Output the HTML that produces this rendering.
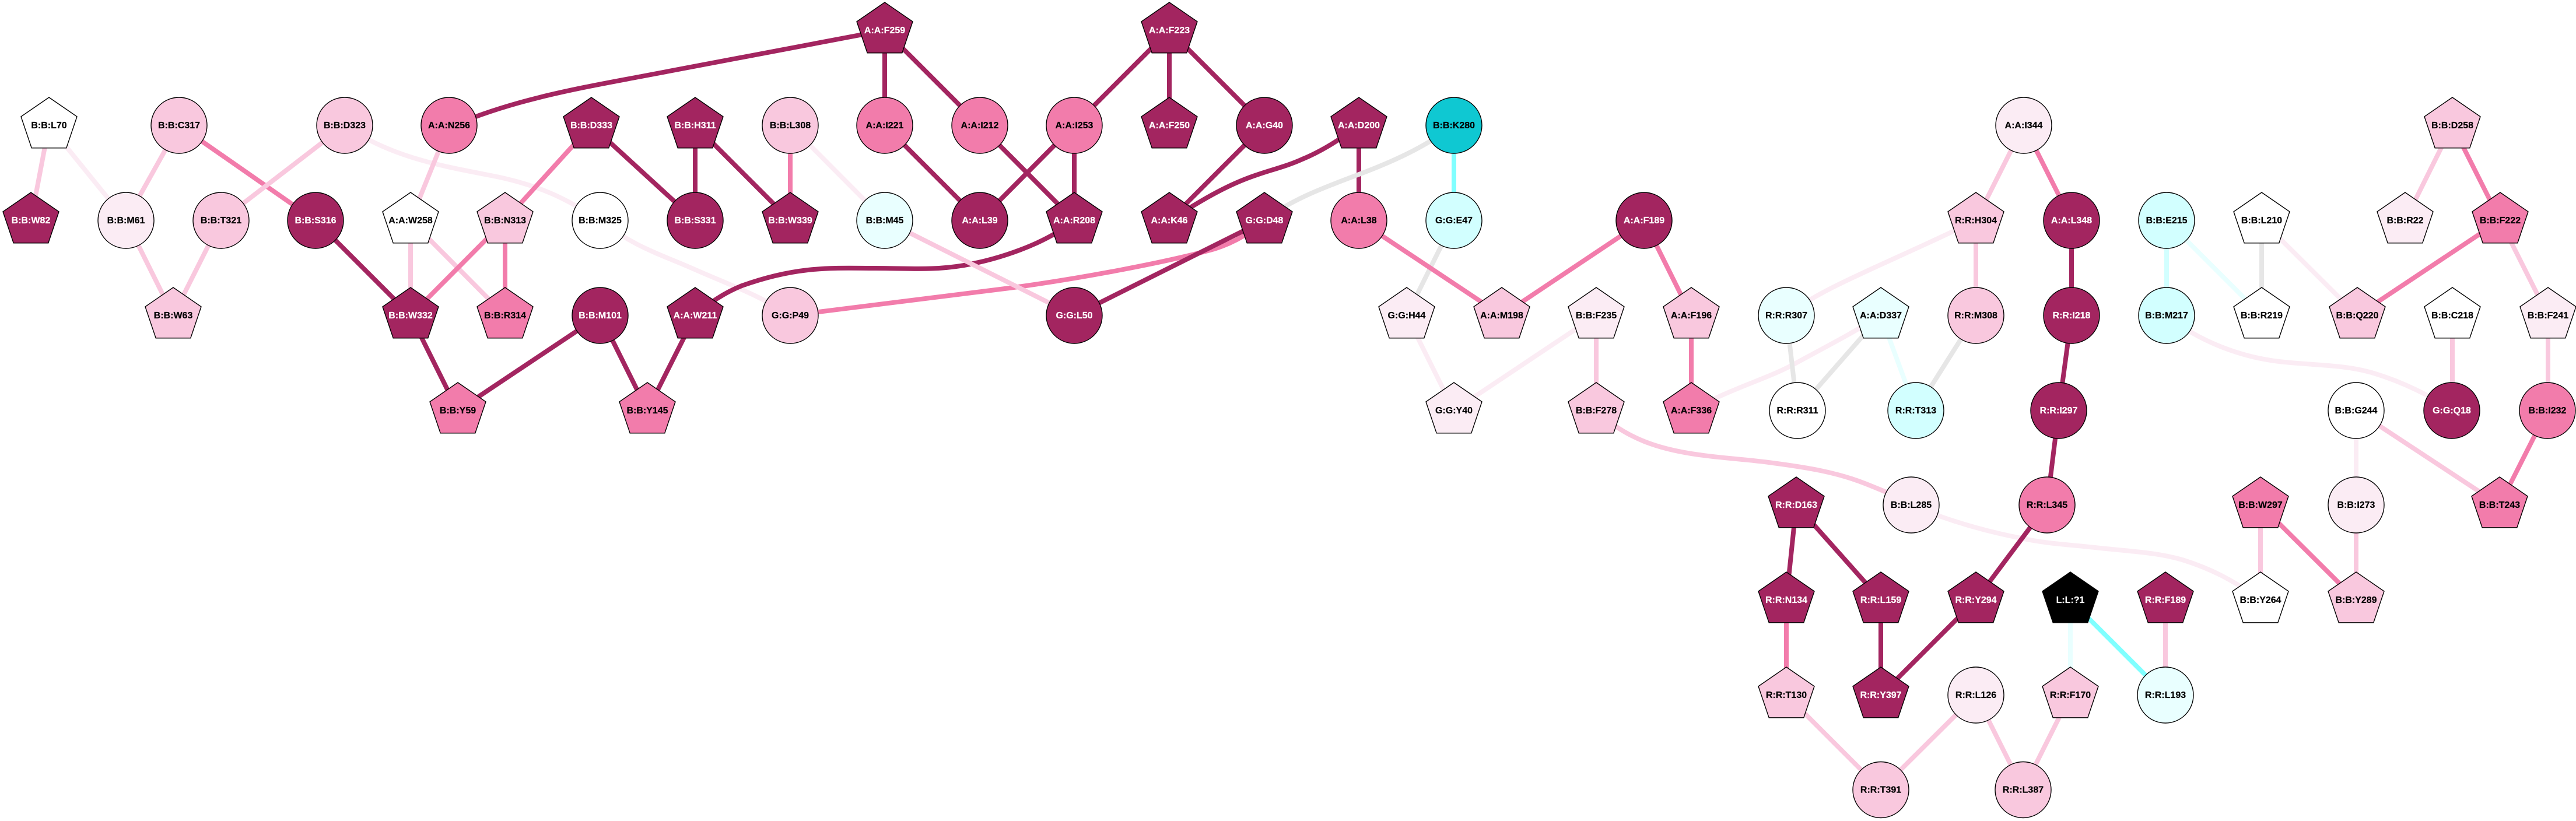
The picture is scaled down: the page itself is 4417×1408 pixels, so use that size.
<!DOCTYPE html>
<html>
<head>
<meta charset="utf-8">
<style>
html,body{margin:0;padding:0;background:#fff}
svg{display:block}
#e path,#e line{fill:none;stroke-width:8}
.ed{stroke:#a32560}.ep{stroke:#f27cab}.el{stroke:#f9c8de}.ev{stroke:#fbecf4}.eg{stroke:#e6e6e6}.ec{stroke:#80ffff}.ea{stroke:#e9ffff}.eb{stroke:#d2ffff}
.n polygon,.n circle{stroke:#000;stroke-width:1.4}
.n text{font-family:"Liberation Sans",Arial,sans-serif;font-weight:700;font-size:16px;text-anchor:middle;fill:#000;stroke:#000;stroke-width:.2}
.w polygon,.w circle{fill:#fff}
.v polygon,.v circle{fill:#fbecf4}
.l polygon,.l circle{fill:#f9c8de}
.p polygon,.p circle{fill:#f27cab}
.d polygon,.d circle{fill:#a32560}
.a polygon,.a circle{fill:#e9ffff}
.b polygon,.b circle{fill:#d2ffff}
.c polygon,.c circle{fill:#0fc8d2}
.k polygon,.k circle{fill:#000}
.d text,.k text{fill:#fff;stroke:#fff}
</style>
</head>
<body>
<svg xmlns="http://www.w3.org/2000/svg" width="4417" height="1408" viewBox="0 0 4417 1408">
<rect width="4417" height="1408" fill="#fff"/>
<g id="e">
<line class="ev" x1="84" y1="215" x2="216" y2="378"/>
<path class="ev" d="M591,215 C670,270 760,285 842,301 S970,340 1029,378"/>
<path class="ev" d="M1029,378 C1090,425 1130,435 1191,462 S1300,505 1355,541"/>
<line class="ev" x1="1355" y1="215" x2="1517" y2="378"/>
<line class="ev" x1="2412" y1="541" x2="2493" y2="704"/>
<line class="ev" x1="2737" y1="541" x2="2493" y2="704"/>
<path class="ev" d="M3063,541 C3130,490 3230,455 3388,378"/>
<path class="ev" d="M2900,704 C2970,665 3030,650 3077,624 C3130,595 3170,575 3225,541"/>
<line class="ev" x1="3878" y1="378" x2="4042" y2="541"/>
<path class="ev" d="M3715,541 C3770,585 3840,612 3908,620 C3970,627 4020,625 4070,640 C4120,655 4170,680 4205,704"/>
<line class="ev" x1="4040" y1="704" x2="4040" y2="866"/>
<path class="ev" d="M3277,866 C3340,893 3400,910 3461,922 C3510,933 3550,934 3601,940 C3660,946 3700,948 3742,960 C3790,975 3830,995 3876,1029"/>
<line class="ea" x1="3225" y1="541" x2="3285" y2="704"/>
<line class="ea" x1="3715" y1="378" x2="3878" y2="541"/>
<line class="ea" x1="3550" y1="1029" x2="3550" y2="1192"/>
<line class="eb" x1="3715" y1="378" x2="3715" y2="541"/>
<line class="eg" x1="2493" y1="378" x2="2412" y2="541"/>
<line class="eg" x1="3063" y1="541" x2="3082" y2="704"/>
<line class="eg" x1="3225" y1="541" x2="3082" y2="704"/>
<line class="eg" x1="3388" y1="541" x2="3285" y2="704"/>
<line class="eg" x1="3878" y1="378" x2="3878" y2="541"/>
<line class="ec" x1="2493" y1="215" x2="2493" y2="378"/>
<line class="ec" x1="3550" y1="1029" x2="3713" y2="1192"/>
<line class="el" x1="704" y1="378" x2="866" y2="541"/>
<line class="el" x1="704" y1="378" x2="704" y2="541"/>
<line class="el" x1="770" y1="215" x2="704" y2="378"/>
<path class="ed" d="M771,218 C880,170 1000,150 1100,131 L1517,52"/>
<line class="ed" x1="1014" y1="215" x2="1192" y2="378"/>
<line class="ed" x1="541" y1="378" x2="704" y2="541"/>
<line class="ed" x1="704" y1="541" x2="785" y2="704"/>
<line class="ed" x1="1029" y1="541" x2="785" y2="704"/>
<line class="ed" x1="1029" y1="541" x2="1110" y2="704"/>
<line class="ed" x1="1192" y1="215" x2="1192" y2="378"/>
<line class="ed" x1="1192" y1="215" x2="1355" y2="378"/>
<line class="ed" x1="1517" y1="52" x2="1517" y2="215"/>
<line class="ed" x1="1517" y1="52" x2="1680" y2="215"/>
<line class="ed" x1="1517" y1="215" x2="1680" y2="378"/>
<line class="ed" x1="1680" y1="215" x2="1842" y2="378"/>
<line class="ed" x1="1842" y1="215" x2="1680" y2="378"/>
<line class="ed" x1="1842" y1="215" x2="1842" y2="378"/>
<line class="ed" x1="2005" y1="52" x2="1842" y2="215"/>
<line class="ed" x1="2005" y1="52" x2="2005" y2="215"/>
<line class="ed" x1="2005" y1="52" x2="2168" y2="215"/>
<line class="ed" x1="2168" y1="215" x2="2005" y2="378"/>
<path class="ed" d="M2005,378 C2050,350 2090,325 2133,308 C2170,293 2200,288 2233,273 C2265,260 2300,238 2330,215"/>
<line class="ed" x1="2330" y1="215" x2="2330" y2="378"/>
<path class="ed" d="M1842,378 C1790,420 1710,445 1653,455 C1600,464 1560,460 1501,460 C1430,460 1370,455 1272,490 C1240,503 1215,520 1192,541"/>
<line class="ed" x1="1192" y1="541" x2="1110" y2="704"/>
<line class="ed" x1="3552" y1="378" x2="3552" y2="541"/>
<line class="ed" x1="3552" y1="541" x2="3530" y2="704"/>
<line class="ed" x1="3530" y1="704" x2="3510" y2="866"/>
<line class="ed" x1="3510" y1="866" x2="3388" y2="1029"/>
<line class="ed" x1="3080" y1="866" x2="3063" y2="1029"/>
<line class="ed" x1="3080" y1="866" x2="3225" y2="1029"/>
<line class="ed" x1="3225" y1="1029" x2="3225" y2="1192"/>
<line class="ed" x1="3388" y1="1029" x2="3225" y2="1192"/>
<line class="ep" x1="307" y1="215" x2="541" y2="378"/>
<line class="ep" x1="866" y1="378" x2="866" y2="541"/>
<line class="ep" x1="1355" y1="215" x2="1355" y2="378"/>
<path class="ep" d="M1355,541 L1731,494 C1850,478 2000,450 2082,427 C2120,415 2150,395 2168,378"/>
<line class="ed" x1="1842" y1="541" x2="2168" y2="378"/>
<line class="ep" x1="2330" y1="378" x2="2575" y2="541"/>
<line class="ep" x1="2819" y1="378" x2="2575" y2="541"/>
<line class="ep" x1="2819" y1="378" x2="2900" y2="541"/>
<line class="ep" x1="2900" y1="541" x2="2900" y2="704"/>
<line class="ep" x1="3470" y1="215" x2="3552" y2="378"/>
<line class="ep" x1="4205" y1="215" x2="4287" y2="378"/>
<line class="ep" x1="4287" y1="378" x2="4042" y2="541"/>
<line class="ep" x1="4368" y1="704" x2="4286" y2="866"/>
<line class="ep" x1="3876" y1="866" x2="4040" y2="1029"/>
<line class="ep" x1="3063" y1="1029" x2="3063" y2="1192"/>
<line class="el" x1="84" y1="215" x2="53" y2="378"/>
<line class="el" x1="307" y1="215" x2="216" y2="378"/>
<line class="el" x1="591" y1="215" x2="379" y2="378"/>
<line class="el" x1="216" y1="378" x2="297" y2="541"/>
<line class="el" x1="379" y1="378" x2="297" y2="541"/>
<line class="el" x1="1517" y1="378" x2="1842" y2="541"/>
<line class="el" x1="2737" y1="541" x2="2737" y2="704"/>
<line class="el" x1="3470" y1="215" x2="3388" y2="378"/>
<line class="el" x1="3388" y1="378" x2="3388" y2="541"/>
<line class="el" x1="4205" y1="215" x2="4124" y2="378"/>
<line class="el" x1="4287" y1="378" x2="4369" y2="541"/>
<line class="el" x1="4205" y1="541" x2="4205" y2="704"/>
<line class="el" x1="4369" y1="541" x2="4369" y2="704"/>
<line class="el" x1="4040" y1="704" x2="4286" y2="866"/>
<line class="el" x1="4040" y1="866" x2="4040" y2="1029"/>
<line class="el" x1="3876" y1="866" x2="3876" y2="1029"/>
<path class="el" d="M2737,704 C2790,755 2850,770 2900,778 C2950,786 2990,787 3040,794 C3100,802 3150,810 3200,830 C3230,842 3255,852 3277,866"/>
<line class="el" x1="3713" y1="1029" x2="3713" y2="1192"/>
<line class="el" x1="3063" y1="1192" x2="3225" y2="1354"/>
<line class="el" x1="3388" y1="1192" x2="3225" y2="1354"/>
<line class="el" x1="3388" y1="1192" x2="3469" y2="1354"/>
<line class="el" x1="3550" y1="1192" x2="3469" y2="1354"/>
<line class="ep" x1="1014" y1="215" x2="866" y2="378"/>
<line class="ep" x1="866" y1="378" x2="704" y2="541"/>
<path class="eg" d="M2168,378 C2210,345 2260,325 2333,298 C2380,280 2440,255 2493,215"/>
</g>
<g transform="translate(84,215)" class="n w"><polygon points="0,-48 48,-15 29.8,38.8 -29.8,38.8 -48,-15"/><text y="5">B:B:L70</text></g>
<g transform="translate(53,378)" class="n d"><polygon points="0,-48 48,-15 29.8,38.8 -29.8,38.8 -48,-15"/><text y="5">B:B:W82</text></g>
<g transform="translate(297,541)" class="n l"><polygon points="0,-48 48,-15 29.8,38.8 -29.8,38.8 -48,-15"/><text y="5">B:B:W63</text></g>
<g transform="translate(704,378)" class="n w"><polygon points="0,-48 48,-15 29.8,38.8 -29.8,38.8 -48,-15"/><text y="5">A:A:W258</text></g>
<g transform="translate(866,378)" class="n l"><polygon points="0,-48 48,-15 29.8,38.8 -29.8,38.8 -48,-15"/><text y="5">B:B:N313</text></g>
<g transform="translate(1014,215)" class="n d"><polygon points="0,-48 48,-15 29.8,38.8 -29.8,38.8 -48,-15"/><text y="5">B:B:D333</text></g>
<g transform="translate(704,541)" class="n d"><polygon points="0,-48 48,-15 29.8,38.8 -29.8,38.8 -48,-15"/><text y="5">B:B:W332</text></g>
<g transform="translate(866,541)" class="n p"><polygon points="0,-48 48,-15 29.8,38.8 -29.8,38.8 -48,-15"/><text y="5">B:B:R314</text></g>
<g transform="translate(785,704)" class="n p"><polygon points="0,-48 48,-15 29.8,38.8 -29.8,38.8 -48,-15"/><text y="5">B:B:Y59</text></g>
<g transform="translate(1110,704)" class="n p"><polygon points="0,-48 48,-15 29.8,38.8 -29.8,38.8 -48,-15"/><text y="5">B:B:Y145</text></g>
<g transform="translate(1517,52)" class="n d"><polygon points="0,-48 48,-15 29.8,38.8 -29.8,38.8 -48,-15"/><text y="5">A:A:F259</text></g>
<g transform="translate(2005,52)" class="n d"><polygon points="0,-48 48,-15 29.8,38.8 -29.8,38.8 -48,-15"/><text y="5">A:A:F223</text></g>
<g transform="translate(1192,215)" class="n d"><polygon points="0,-48 48,-15 29.8,38.8 -29.8,38.8 -48,-15"/><text y="5">B:B:H311</text></g>
<g transform="translate(2005,215)" class="n d"><polygon points="0,-48 48,-15 29.8,38.8 -29.8,38.8 -48,-15"/><text y="5">A:A:F250</text></g>
<g transform="translate(1355,378)" class="n d"><polygon points="0,-48 48,-15 29.8,38.8 -29.8,38.8 -48,-15"/><text y="5">B:B:W339</text></g>
<g transform="translate(1842,378)" class="n d"><polygon points="0,-48 48,-15 29.8,38.8 -29.8,38.8 -48,-15"/><text y="5">A:A:R208</text></g>
<g transform="translate(2005,378)" class="n d"><polygon points="0,-48 48,-15 29.8,38.8 -29.8,38.8 -48,-15"/><text y="5">A:A:K46</text></g>
<g transform="translate(2168,378)" class="n d"><polygon points="0,-48 48,-15 29.8,38.8 -29.8,38.8 -48,-15"/><text y="5">G:G:D48</text></g>
<g transform="translate(1192,541)" class="n d"><polygon points="0,-48 48,-15 29.8,38.8 -29.8,38.8 -48,-15"/><text y="5">A:A:W211</text></g>
<g transform="translate(2330,215)" class="n d"><polygon points="0,-48 48,-15 29.8,38.8 -29.8,38.8 -48,-15"/><text y="5">A:A:D200</text></g>
<g transform="translate(2412,541)" class="n v"><polygon points="0,-48 48,-15 29.8,38.8 -29.8,38.8 -48,-15"/><text y="5">G:G:H44</text></g>
<g transform="translate(2575,541)" class="n l"><polygon points="0,-48 48,-15 29.8,38.8 -29.8,38.8 -48,-15"/><text y="5">A:A:M198</text></g>
<g transform="translate(2737,541)" class="n v"><polygon points="0,-48 48,-15 29.8,38.8 -29.8,38.8 -48,-15"/><text y="5">B:B:F235</text></g>
<g transform="translate(2900,541)" class="n l"><polygon points="0,-48 48,-15 29.8,38.8 -29.8,38.8 -48,-15"/><text y="5">A:A:F196</text></g>
<g transform="translate(3225,541)" class="n a"><polygon points="0,-48 48,-15 29.8,38.8 -29.8,38.8 -48,-15"/><text y="5">A:A:D337</text></g>
<g transform="translate(2493,704)" class="n v"><polygon points="0,-48 48,-15 29.8,38.8 -29.8,38.8 -48,-15"/><text y="5">G:G:Y40</text></g>
<g transform="translate(2737,704)" class="n l"><polygon points="0,-48 48,-15 29.8,38.8 -29.8,38.8 -48,-15"/><text y="5">B:B:F278</text></g>
<g transform="translate(2900,704)" class="n p"><polygon points="0,-48 48,-15 29.8,38.8 -29.8,38.8 -48,-15"/><text y="5">A:A:F336</text></g>
<g transform="translate(3388,378)" class="n l"><polygon points="0,-48 48,-15 29.8,38.8 -29.8,38.8 -48,-15"/><text y="5">R:R:H304</text></g>
<g transform="translate(3878,378)" class="n w"><polygon points="0,-48 48,-15 29.8,38.8 -29.8,38.8 -48,-15"/><text y="5">B:B:L210</text></g>
<g transform="translate(4124,378)" class="n v"><polygon points="0,-48 48,-15 29.8,38.8 -29.8,38.8 -48,-15"/><text y="5">B:B:R22</text></g>
<g transform="translate(4205,215)" class="n l"><polygon points="0,-48 48,-15 29.8,38.8 -29.8,38.8 -48,-15"/><text y="5">B:B:D258</text></g>
<g transform="translate(4287,378)" class="n p"><polygon points="0,-48 48,-15 29.8,38.8 -29.8,38.8 -48,-15"/><text y="5">B:B:F222</text></g>
<g transform="translate(3878,541)" class="n w"><polygon points="0,-48 48,-15 29.8,38.8 -29.8,38.8 -48,-15"/><text y="5">B:B:R219</text></g>
<g transform="translate(4042,541)" class="n l"><polygon points="0,-48 48,-15 29.8,38.8 -29.8,38.8 -48,-15"/><text y="5">B:B:Q220</text></g>
<g transform="translate(4205,541)" class="n w"><polygon points="0,-48 48,-15 29.8,38.8 -29.8,38.8 -48,-15"/><text y="5">B:B:C218</text></g>
<g transform="translate(4369,541)" class="n v"><polygon points="0,-48 48,-15 29.8,38.8 -29.8,38.8 -48,-15"/><text y="5">B:B:F241</text></g>
<g transform="translate(4286,866)" class="n p"><polygon points="0,-48 48,-15 29.8,38.8 -29.8,38.8 -48,-15"/><text y="5">B:B:T243</text></g>
<g transform="translate(3876,866)" class="n p"><polygon points="0,-48 48,-15 29.8,38.8 -29.8,38.8 -48,-15"/><text y="5">B:B:W297</text></g>
<g transform="translate(3876,1029)" class="n w"><polygon points="0,-48 48,-15 29.8,38.8 -29.8,38.8 -48,-15"/><text y="5">B:B:Y264</text></g>
<g transform="translate(4040,1029)" class="n l"><polygon points="0,-48 48,-15 29.8,38.8 -29.8,38.8 -48,-15"/><text y="5">B:B:Y289</text></g>
<g transform="translate(3080,866)" class="n d"><polygon points="0,-48 48,-15 29.8,38.8 -29.8,38.8 -48,-15"/><text y="5">R:R:D163</text></g>
<g transform="translate(3063,1029)" class="n d"><polygon points="0,-48 48,-15 29.8,38.8 -29.8,38.8 -48,-15"/><text y="5">R:R:N134</text></g>
<g transform="translate(3225,1029)" class="n d"><polygon points="0,-48 48,-15 29.8,38.8 -29.8,38.8 -48,-15"/><text y="5">R:R:L159</text></g>
<g transform="translate(3388,1029)" class="n d"><polygon points="0,-48 48,-15 29.8,38.8 -29.8,38.8 -48,-15"/><text y="5">R:R:Y294</text></g>
<g transform="translate(3550,1029)" class="n k"><polygon points="0,-48 48,-15 29.8,38.8 -29.8,38.8 -48,-15"/><text y="5">L:L:?1</text></g>
<g transform="translate(3713,1029)" class="n d"><polygon points="0,-48 48,-15 29.8,38.8 -29.8,38.8 -48,-15"/><text y="5">R:R:F189</text></g>
<g transform="translate(3063,1192)" class="n l"><polygon points="0,-48 48,-15 29.8,38.8 -29.8,38.8 -48,-15"/><text y="5">R:R:T130</text></g>
<g transform="translate(3225,1192)" class="n d"><polygon points="0,-48 48,-15 29.8,38.8 -29.8,38.8 -48,-15"/><text y="5">R:R:Y397</text></g>
<g transform="translate(3550,1192)" class="n l"><polygon points="0,-48 48,-15 29.8,38.8 -29.8,38.8 -48,-15"/><text y="5">R:R:F170</text></g>
<g transform="translate(307,215)" class="n l"><circle r="48"/><text y="5">B:B:C317</text></g>
<g transform="translate(591,215)" class="n l"><circle r="48"/><text y="5">B:B:D323</text></g>
<g transform="translate(770,215)" class="n p"><circle r="48"/><text y="5">A:A:N256</text></g>
<g transform="translate(216,378)" class="n v"><circle r="48"/><text y="5">B:B:M61</text></g>
<g transform="translate(379,378)" class="n l"><circle r="48"/><text y="5">B:B:T321</text></g>
<g transform="translate(541,378)" class="n d"><circle r="48"/><text y="5">B:B:S316</text></g>
<g transform="translate(1029,378)" class="n w"><circle r="48"/><text y="5">B:B:M325</text></g>
<g transform="translate(1029,541)" class="n d"><circle r="48"/><text y="5">B:B:M101</text></g>
<g transform="translate(1355,215)" class="n l"><circle r="48"/><text y="5">B:B:L308</text></g>
<g transform="translate(1517,215)" class="n p"><circle r="48"/><text y="5">A:A:I221</text></g>
<g transform="translate(1680,215)" class="n p"><circle r="48"/><text y="5">A:A:I212</text></g>
<g transform="translate(1842,215)" class="n p"><circle r="48"/><text y="5">A:A:I253</text></g>
<g transform="translate(2168,215)" class="n d"><circle r="48"/><text y="5">A:A:G40</text></g>
<g transform="translate(1192,378)" class="n d"><circle r="48"/><text y="5">B:B:S331</text></g>
<g transform="translate(1517,378)" class="n a"><circle r="48"/><text y="5">B:B:M45</text></g>
<g transform="translate(1680,378)" class="n d"><circle r="48"/><text y="5">A:A:L39</text></g>
<g transform="translate(1355,541)" class="n l"><circle r="48"/><text y="5">G:G:P49</text></g>
<g transform="translate(1842,541)" class="n d"><circle r="48"/><text y="5">G:G:L50</text></g>
<g transform="translate(2493,215)" class="n c"><circle r="48"/><text y="5">B:B:K280</text></g>
<g transform="translate(2330,378)" class="n p"><circle r="48"/><text y="5">A:A:L38</text></g>
<g transform="translate(2493,378)" class="n b"><circle r="48"/><text y="5">G:G:E47</text></g>
<g transform="translate(2819,378)" class="n d"><circle r="48"/><text y="5">A:A:F189</text></g>
<g transform="translate(3063,541)" class="n a"><circle r="48"/><text y="5">R:R:R307</text></g>
<g transform="translate(3082,704)" class="n w"><circle r="48"/><text y="5">R:R:R311</text></g>
<g transform="translate(3285,704)" class="n b"><circle r="48"/><text y="5">R:R:T313</text></g>
<g transform="translate(3470,215)" class="n v"><circle r="48"/><text y="5">A:A:I344</text></g>
<g transform="translate(3552,378)" class="n d"><circle r="48"/><text y="5">A:A:L348</text></g>
<g transform="translate(3715,378)" class="n b"><circle r="48"/><text y="5">B:B:E215</text></g>
<g transform="translate(3388,541)" class="n l"><circle r="48"/><text y="5">R:R:M308</text></g>
<g transform="translate(3552,541)" class="n d"><circle r="48"/><text y="5">R:R:I218</text></g>
<g transform="translate(3715,541)" class="n b"><circle r="48"/><text y="5">B:B:M217</text></g>
<g transform="translate(3530,704)" class="n d"><circle r="48"/><text y="5">R:R:I297</text></g>
<g transform="translate(4040,704)" class="n w"><circle r="48"/><text y="5">B:B:G244</text></g>
<g transform="translate(4204,704)" class="n d"><circle r="48"/><text y="5">G:G:Q18</text></g>
<g transform="translate(4368,704)" class="n p"><circle r="48"/><text y="5">B:B:I232</text></g>
<g transform="translate(3277,866)" class="n v"><circle r="48"/><text y="5">B:B:L285</text></g>
<g transform="translate(3510,866)" class="n p"><circle r="48"/><text y="5">R:R:L345</text></g>
<g transform="translate(4040,866)" class="n v"><circle r="48"/><text y="5">B:B:I273</text></g>
<g transform="translate(3388,1192)" class="n v"><circle r="48"/><text y="5">R:R:L126</text></g>
<g transform="translate(3713,1192)" class="n a"><circle r="48"/><text y="5">R:R:L193</text></g>
<g transform="translate(3225,1354.5)" class="n l"><circle r="48"/><text y="5">R:R:T391</text></g>
<g transform="translate(3469,1354.5)" class="n l"><circle r="48"/><text y="5">R:R:L387</text></g>
</svg>
</body>
</html>
